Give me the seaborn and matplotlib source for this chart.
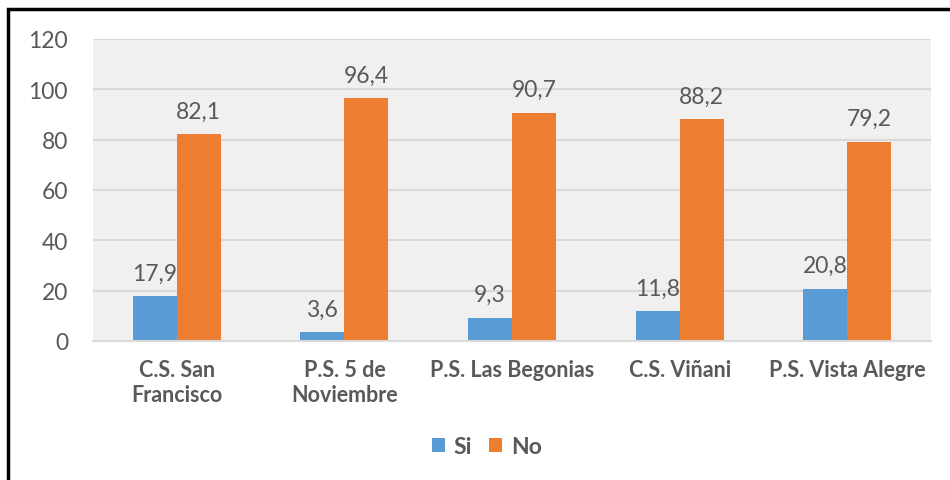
import matplotlib
matplotlib.use("Agg")
import matplotlib.pyplot as plt
import seaborn as sns
import pandas as pd
from matplotlib.patches import Rectangle, Patch

categories = ["C.S. San\nFrancisco", "P.S. 5 de\nNoviembre", "P.S. Las Begonias", "C.S. Viñani", "P.S. Vista Alegre"]
series = ["Si", "No"]
si_values = [17.9, 3.6, 9.3, 11.8, 20.8]
no_values = [82.1, 96.4, 90.7, 88.2, 79.2]
yticks = [0, 20, 40, 60, 80, 100, 120]

df = pd.DataFrame({
    "cat": categories * 2,
    "serie": ["Si"] * len(categories) + ["No"] * len(categories),
    "val": si_values + no_values,
})

sns.set_theme(style="white")
plt.rcParams["font.family"] = ["Lato", "DejaVu Sans"]

colors = {"Si": "#5B9BD5", "No": "#ED7D31"}
txt = "#595959"

fig = plt.figure(figsize=(9.5, 4.81), dpi=100)
ax = fig.add_axes([93 / 950, 1 - 342 / 481, (931 - 93) / 950, (342 - 40) / 481])
ax.set_facecolor("#F0F0F0")

sns.barplot(data=df, x="cat", y="val", hue="serie", hue_order=series, order=categories,
            palette=colors, width=0.525, ax=ax, legend=False, saturation=1, linewidth=0)

for cont in ax.containers:
    ax.bar_label(cont, labels=[f"{v:.1f}".replace(".", ",") for v in cont.datavalues],
                 padding=9, fontsize=16.5, color=txt)

ax.set_ylim(0, 120)
ax.set_yticks(yticks)
ax.set_yticklabels([str(t) for t in yticks], fontsize=16.5, color=txt)
ax.yaxis.grid(True, color="#D9D9D9", linewidth=1.5)
ax.set_axisbelow(True)
ax.set_xlabel("")
ax.set_ylabel("")
for s in ["top", "right", "left"]:
    ax.spines[s].set_visible(False)
ax.spines["bottom"].set_color("#D9D9D9")
ax.spines["bottom"].set_linewidth(1.5)
ax.tick_params(axis="y", length=0, pad=18)
ax.tick_params(axis="x", length=0, pad=13)
for lab in ax.get_xticklabels():
    lab.set_fontweight("bold")
    lab.set_fontsize(15.5)
    lab.set_color(txt)
    lab.set_linespacing(1.25)

handles = [Patch(facecolor=colors[s], edgecolor="none", label=s) for s in series]
leg = fig.legend(handles=handles, loc="center", bbox_to_anchor=(487 / 950, 1 - 448 / 481),
                 ncol=2, frameon=False, fontsize=16.5, handlelength=0.55, handleheight=0.55,
                 handletextpad=0.4, columnspacing=0.75)
for t in leg.get_texts():
    t.set_fontweight("bold")
    t.set_color(txt)

fig.patches.append(Rectangle((8 / 950, -0.1), 1.2, 1 - 10 / 481 + 0.1, transform=fig.transFigure,
                             fill=False, edgecolor="black", linewidth=2.5))

fig.savefig("out.png", dpi=100)
